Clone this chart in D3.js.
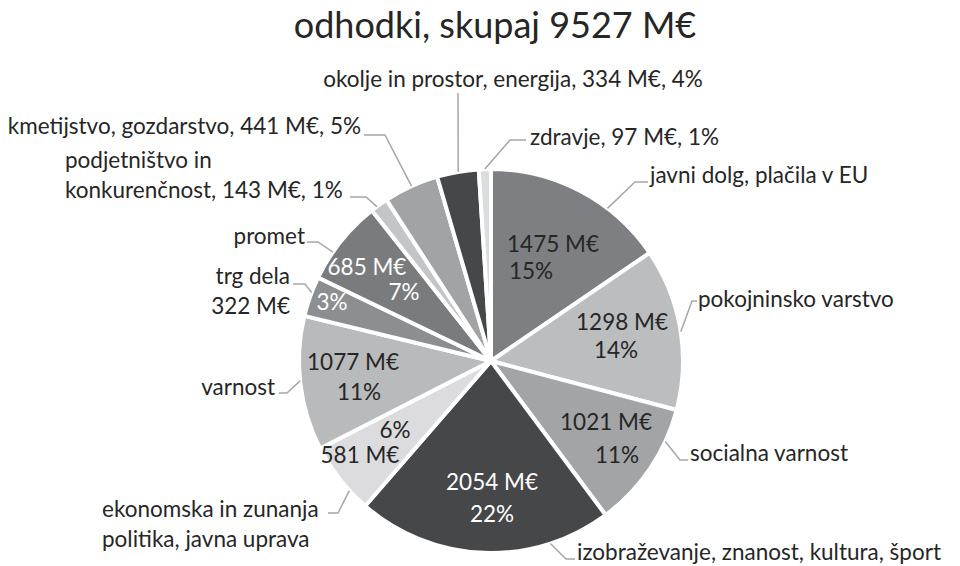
<!DOCTYPE html>
<html>
<head>
<meta charset="utf-8">
<script src="https://cdn.jsdelivr.net/npm/d3@7"></script>
<style>
  body { margin: 0; background: #fff; }
  text { font-family: Lato, "Open Sans", sans-serif; fill: #262626; }
</style>
</head>
<body>
<div class="vizHolder"></div>
<script>
var width = 960,
    height = 566,
    cx = 491,
    cy = 361,
    radius = 192;

// data (clockwise from 12 o'clock)
var title = 'odhodki, skupaj',
    total = 9527;

var categories = [
  'javni dolg, plačila v EU',
  'pokojninsko varstvo',
  'socialna varnost',
  'izobraževanje, znanost, kultura, šport',
  'ekonomska in zunanja\npolitika, javna uprava',
  'varnost',
  'trg dela',
  'promet',
  'podjetništvo in\nkonkurenčnost',
  'kmetijstvo, gozdarstvo',
  'okolje in prostor, energija',
  'zdravje'
];
var values = [1475, 1298, 1021, 2054, 581, 1077, 322, 685, 143, 441, 334, 97];
var percents = ['15%', '14%', '11%', '22%', '6%', '11%', '3%', '7%', '1%', '5%', '4%', '1%'];

var colors = ['#7e7f82', '#bcbdbf', '#a3a4a6', '#464749', '#dcdcde', '#b9babc',
              '#8d8e90', '#7a7b7d', '#c4c5c7', '#a2a3a5', '#464749', '#dcdddf'];

// label layout: outside label, leader line, labels inside the slice
var layout = [
  {out: '{n}', x: 650, y: 183, anchor: 'start', lead: [0.67, 635, 182, 648, 182],
   inside: [['{v} M€', 553, 252], ['{p}', 531, 279]]},
  {out: '{n}', x: 698, y: 307, anchor: 'start', lead: [0.52, 692, 301, 697, 301],
   inside: [['{v} M€', 622, 330], ['{p}', 616, 358]]},
  {out: '{n}', x: 690, y: 461, anchor: 'start', lead: [0.26, 680, 460, 688, 460],
   inside: [['{v} M€', 606, 430], ['{p}', 617, 463]]},
  {out: '{n}', x: 577, y: 560, anchor: 'start', lead: [0.24, 566, 559, 575, 559],
   inside: [['{v} M€', 492, 490], ['{p}', 492, 522]], light: true},
  {out: '{n}', x: 102, y: 517, anchor: 'start', lead: [0.3, 338, 513, 328, 513],
   inside: [['{p}', 395, 438], ['{v} M€', 360, 463]]},
  {out: '{n}', x: 275, y: 395, anchor: 'end', lead: [0.52, 287, 393, 279, 393],
   inside: [['{v} M€', 353, 370], ['{p}', 359, 400]]},
  {out: '{n}\n{v} M€', x: 290, y: 284, anchor: 'end', lead: [0.6, 305, 284, 293, 284],
   inside: [['{p}', 332, 310]], light: true},
  {out: '{n}', x: 305, y: 244, anchor: 'end', lead: [0.34, 318, 242, 307, 242],
   inside: [['{v} M€', 367, 275], ['{p}', 404, 300]], light: true},
  {out: '{n}, {v} M€, {p}', x: 65, y: 168, anchor: 'start', lead: [0.35, 366, 197, 350, 197],
   inside: []},
  {out: '{n}, {v} M€, {p}', x: 361, y: 134, anchor: 'end', lead: [0.51, 385, 135, 364, 135],
   inside: []},
  {out: '{n}, {v} M€, {p}', x: 513, y: 87, anchor: 'middle', lead: [0.51, 458, 93, 458, 93],
   inside: []},
  {out: '{n}, {v} M€, {p}', x: 530, y: 145, anchor: 'start', lead: [0.5, 510, 140, 526, 140],
   inside: []}
];

var fontSize = 22.5,
    lineHeight = 30;

function fill(tpl, i) {
  return tpl.replace('{n}', categories[i])
            .replace('{v}', values[i])
            .replace('{p}', percents[i]);
}

var svg = d3.select('.vizHolder')
            .append('svg')
            .attr('width', width)
            .attr('height', height);

// title
svg.append('text')
   .attr('x', 495)
   .attr('y', 38)
   .attr('text-anchor', 'middle')
   .style('font-size', '36px')
   .text(title + ' ' + total + ' M€');

var pie = d3.pie().sort(null).value(function(d){ return d; });
var arcs = pie(values);

var arc = d3.arc()
            .innerRadius(0)
            .outerRadius(radius);

var g = svg.append('g')
           .attr('transform', 'translate(' + cx + ',' + cy + ')');

g.selectAll('path')
 .data(arcs)
 .enter()
 .append('path')
 .attr('d', arc)
 .attr('fill', function(d, i){ return colors[i]; })
 .attr('stroke', '#fff')
 .attr('stroke-width', 4)
 .attr('stroke-linejoin', 'miter');

// leader lines
arcs.forEach(function(d, i){
  var l = layout[i].lead;
  var a = d.startAngle + l[0] * (d.endAngle - d.startAngle);
  var p = d3.pointRadial(a, radius);
  svg.append('polyline')
     .attr('points', [[cx + p[0], cy + p[1]], [l[1], l[2]], [l[3], l[4]]].join(' '))
     .attr('fill', 'none')
     .attr('stroke', '#a6a6a6')
     .attr('stroke-width', 1.5);
});

// outside labels
layout.forEach(function(lay, i){
  var t = svg.append('text')
             .attr('x', lay.x)
             .attr('y', lay.y)
             .attr('text-anchor', lay.anchor)
             .style('font-size', fontSize + 'px');
  fill(lay.out, i).split('\n').forEach(function(line, k){
    t.append('tspan')
     .attr('x', lay.x)
     .attr('dy', k === 0 ? 0 : lineHeight)
     .text(line);
  });
});

// labels inside the slices
layout.forEach(function(lay, i){
  lay.inside.forEach(function(item){
    svg.append('text')
       .attr('x', item[1])
       .attr('y', item[2])
       .attr('text-anchor', 'middle')
       .style('font-size', fontSize + 'px')
       .style('fill', lay.light ? '#ffffff' : '#262626')
       .text(fill(item[0], i));
  });
});
</script>
</body>
</html>
